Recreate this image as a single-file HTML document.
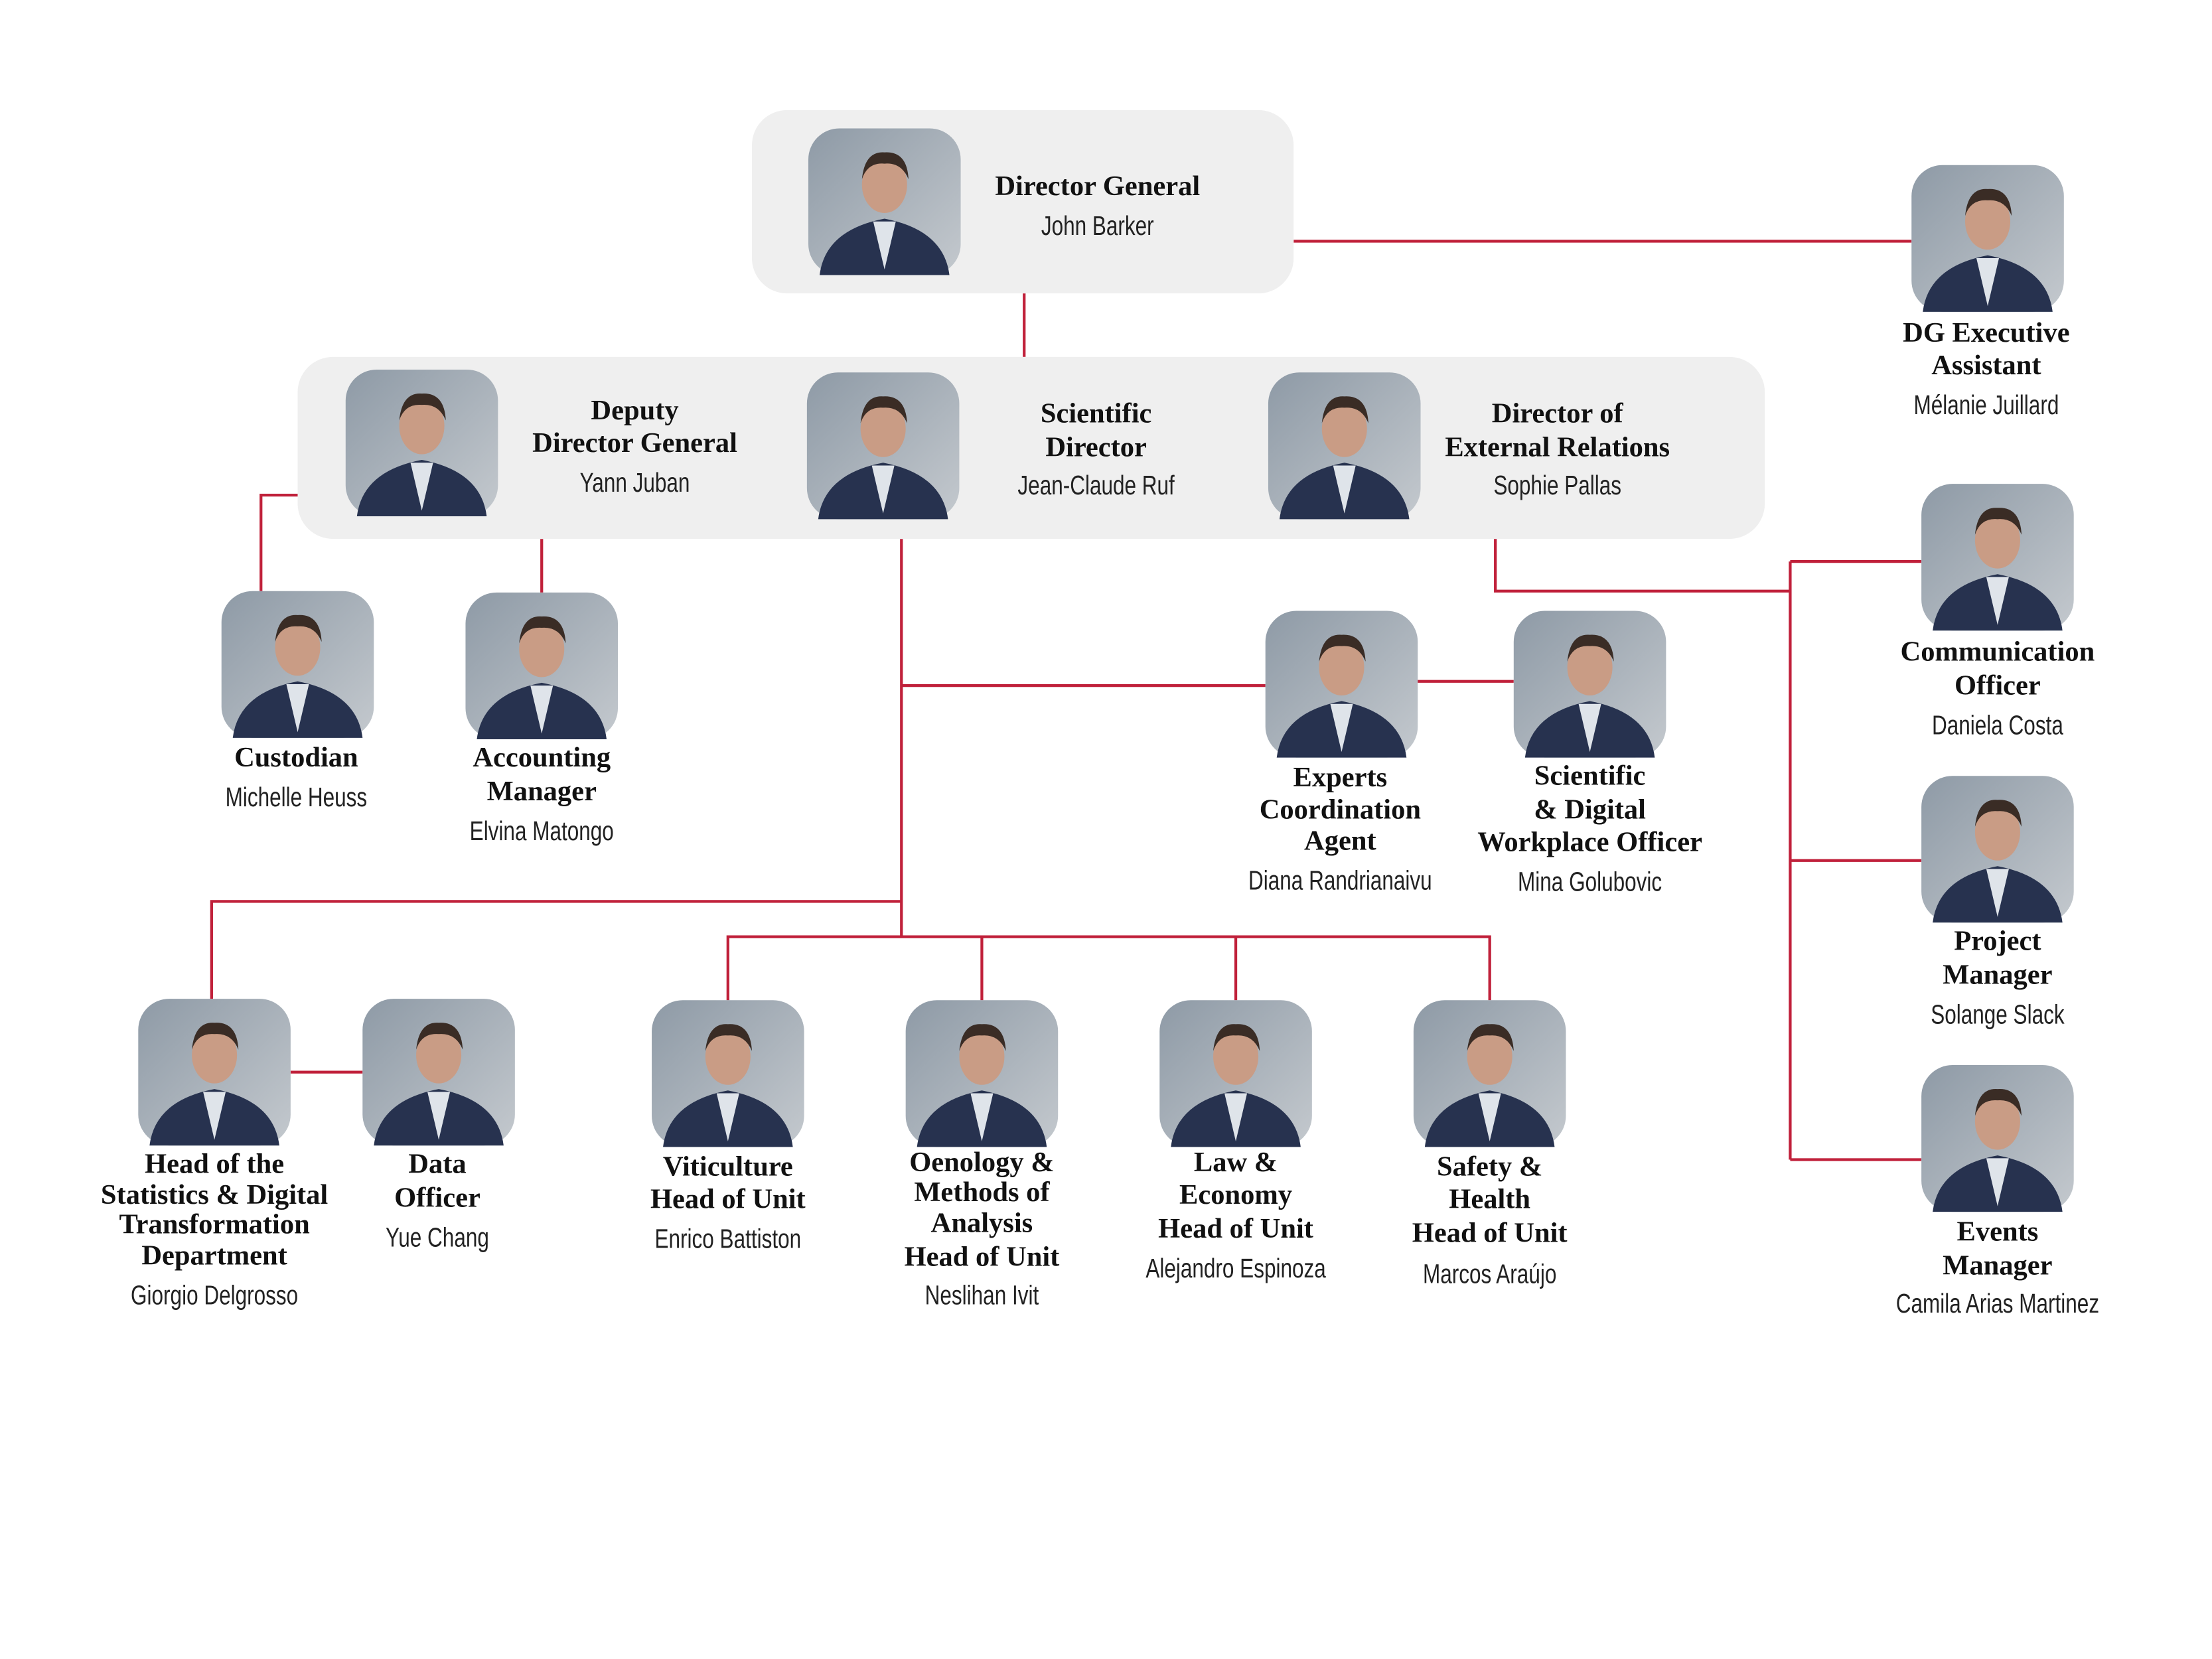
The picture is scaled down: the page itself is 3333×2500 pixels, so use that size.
<!DOCTYPE html>
<html><head><meta charset="utf-8"><style>
html,body{margin:0;padding:0;background:#fff}
svg{display:block}
.t{font-family:"Liberation Serif",serif;font-weight:bold;font-size:20px;fill:#111;text-anchor:middle}
.n{font-family:"Liberation Sans",sans-serif;font-size:19px;fill:#222;text-anchor:middle}
.l{stroke:#c0203a;stroke-width:2;fill:none}
</style></head><body>
<svg width="3333" height="2500" viewBox="0 0 1568 1176" preserveAspectRatio="none" xmlns="http://www.w3.org/2000/svg">
<defs>
<linearGradient id="bg" x1="0" y1="0" x2="1" y2="1"><stop offset="0" stop-color="#8e9aa6"/><stop offset="1" stop-color="#c4c9ce"/></linearGradient>
<g id="p">
<rect x="0" y="0" width="108" height="104" rx="22" fill="url(#bg)"/>
<path d="M8,104 Q12,72 54,64 Q96,72 100,104 Z" fill="#27324f"/>
<path d="M46,66 L54,100 L62,66 Z" fill="#dfe4ea"/>
<ellipse cx="54" cy="40" rx="16" ry="20" fill="#c99c85"/>
<path d="M38,36 Q40,16 54,17 Q70,16 71,36 Q66,24 54,25 Q42,24 38,36 Z" fill="#3a2c25"/>
</g>
</defs>
<rect width="1568" height="1176" fill="#fff"/>
<path class="l" d="M917,171 H1355"/>
<path class="l" d="M726,208 V253"/>
<path class="l" d="M211,351 H185 V419"/>
<path class="l" d="M384,382 V420"/>
<path class="l" d="M639,382 V664"/>
<path class="l" d="M639,486 H897"/>
<path class="l" d="M1004,483 H1073"/>
<path class="l" d="M639,639 H150 V708"/>
<path class="l" d="M206,760 H257"/>
<path class="l" d="M516,709 V664 H1056 V709 M696,664 V709 M876,664 V709"/>
<path class="l" d="M1060,382 V419 H1269 M1269,398 V822 M1269,398 H1362 M1269,610 H1362 M1269,822 H1362"/>
<rect x="533" y="78" width="384" height="130" rx="25" fill="#efefef"/>
<rect x="211" y="253" width="1040" height="129" rx="25" fill="#efefef"/>
<use href="#p" x="573" y="91"/>
<use href="#p" x="1355" y="117"/>
<use href="#p" x="245" y="262"/>
<use href="#p" x="572" y="264"/>
<use href="#p" x="899" y="264"/>
<use href="#p" x="157" y="419"/>
<use href="#p" x="330" y="420"/>
<use href="#p" x="897" y="433"/>
<use href="#p" x="1073" y="433"/>
<use href="#p" x="98" y="708"/>
<use href="#p" x="257" y="708"/>
<use href="#p" x="462" y="709"/>
<use href="#p" x="642" y="709"/>
<use href="#p" x="822" y="709"/>
<use href="#p" x="1002" y="709"/>
<use href="#p" x="1362" y="343"/>
<use href="#p" x="1362" y="550"/>
<use href="#p" x="1362" y="755"/>
<g dominant-baseline="central">
<text class="t" x="778" y="132">Director General</text>
<text class="n" transform="translate(778,160) scale(0.78,1)">John Barker</text>

<text class="t" x="1408" y="236">DG Executive</text>
<text class="t" x="1408" y="259">Assistant</text>
<text class="n" transform="translate(1408,287) scale(0.78,1)">Mélanie Juillard</text>

<text class="t" x="450" y="291">Deputy</text>
<text class="t" x="450" y="314">Director General</text>
<text class="n" transform="translate(450,342) scale(0.78,1)">Yann Juban</text>

<text class="t" x="777" y="293">Scientific</text>
<text class="t" x="777" y="317">Director</text>
<text class="n" transform="translate(777,344) scale(0.78,1)">Jean-Claude Ruf</text>

<text class="t" x="1104" y="293">Director of</text>
<text class="t" x="1104" y="317">External Relations</text>
<text class="n" transform="translate(1104,344) scale(0.78,1)">Sophie Pallas</text>

<text class="t" x="210" y="537">Custodian</text>
<text class="n" transform="translate(210,565) scale(0.78,1)">Michelle Heuss</text>

<text class="t" x="384" y="537">Accounting</text>
<text class="t" x="384" y="561">Manager</text>
<text class="n" transform="translate(384,589) scale(0.78,1)">Elvina Matongo</text>

<text class="t" x="950" y="551">Experts</text>
<text class="t" x="950" y="574">Coordination</text>
<text class="t" x="950" y="596">Agent</text>
<text class="n" transform="translate(950,624) scale(0.78,1)">Diana Randrianaivu</text>

<text class="t" x="1127" y="550">Scientific</text>
<text class="t" x="1127" y="574">&amp; Digital</text>
<text class="t" x="1127" y="597">Workplace Officer</text>
<text class="n" transform="translate(1127,625) scale(0.78,1)">Mina Golubovic</text>

<text class="t" x="152" y="825">Head of the</text>
<text class="t" x="152" y="847">Statistics &amp; Digital</text>
<text class="t" x="152" y="868">Transformation</text>
<text class="t" x="152" y="890">Department</text>
<text class="n" transform="translate(152,918) scale(0.78,1)">Giorgio Delgrosso</text>

<text class="t" x="310" y="825">Data</text>
<text class="t" x="310" y="849">Officer</text>
<text class="n" transform="translate(310,877) scale(0.78,1)">Yue Chang</text>

<text class="t" x="516" y="827">Viticulture</text>
<text class="t" x="516" y="850">Head of Unit</text>
<text class="n" transform="translate(516,878) scale(0.78,1)">Enrico Battiston</text>

<text class="t" x="696" y="824">Oenology &amp;</text>
<text class="t" x="696" y="845">Methods of</text>
<text class="t" x="696" y="867">Analysis</text>
<text class="t" x="696" y="891">Head of Unit</text>
<text class="n" transform="translate(696,918) scale(0.78,1)">Neslihan Ivit</text>

<text class="t" x="876" y="824">Law &amp;</text>
<text class="t" x="876" y="847">Economy</text>
<text class="t" x="876" y="871">Head of Unit</text>
<text class="n" transform="translate(876,899) scale(0.78,1)">Alejandro Espinoza</text>

<text class="t" x="1056" y="827">Safety &amp;</text>
<text class="t" x="1056" y="850">Health</text>
<text class="t" x="1056" y="874">Head of Unit</text>
<text class="n" transform="translate(1056,903) scale(0.78,1)">Marcos Araújo</text>

<text class="t" x="1416" y="462">Communication</text>
<text class="t" x="1416" y="486">Officer</text>
<text class="n" transform="translate(1416,514) scale(0.78,1)">Daniela Costa</text>

<text class="t" x="1416" y="667">Project</text>
<text class="t" x="1416" y="691">Manager</text>
<text class="n" transform="translate(1416,719) scale(0.78,1)">Solange Slack</text>

<text class="t" x="1416" y="873">Events</text>
<text class="t" x="1416" y="897">Manager</text>
<text class="n" transform="translate(1416,924) scale(0.78,1)">Camila Arias Martinez</text>
</g>
</svg>
</body></html>
